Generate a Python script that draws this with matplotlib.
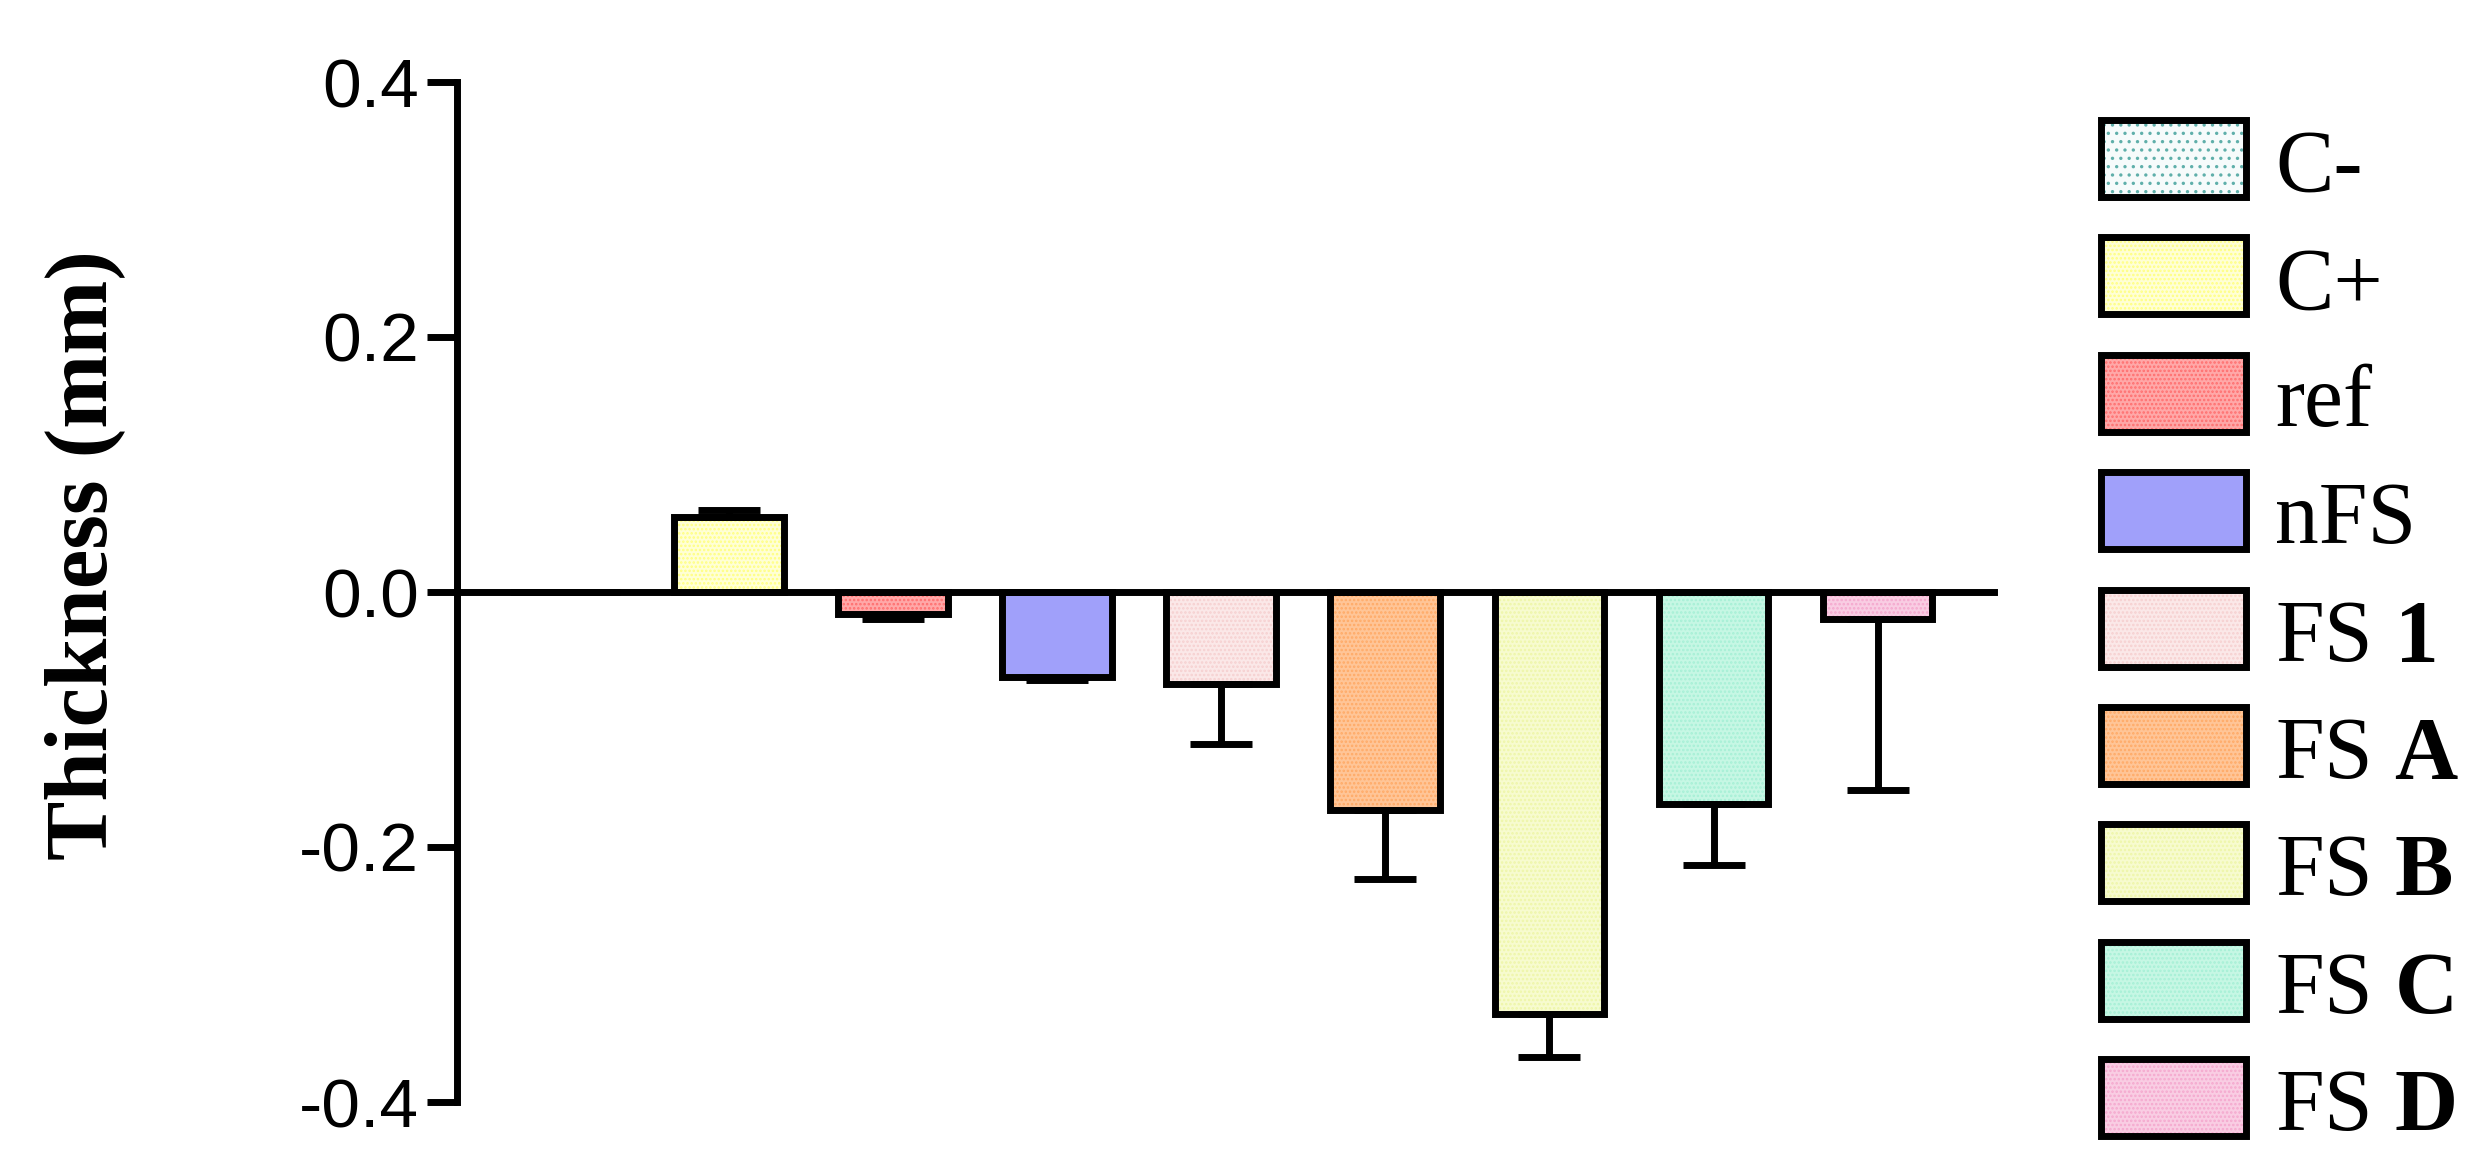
import matplotlib

matplotlib.use("Agg")
import matplotlib.pyplot as plt  # noqa: E402
from matplotlib.patches import Rectangle  # noqa: E402

# values
groups = ["C-", "C+", "ref", "nFS", "FS 1", "FS A", "FS B", "FS C", "FS D"]
legend_labels = ["C-", "C+", "ref", "nFS",
                 r"FS $\mathbf{1}$", r"FS $\mathbf{A}$", r"FS $\mathbf{B}$",
                 r"FS $\mathbf{C}$", r"FS $\mathbf{D}$"]
thickness = [0.0, 0.059, -0.017, -0.067, -0.072, -0.171, -0.331, -0.166, -0.021]
sd = [0.0, 0.005, 0.004, 0.002, 0.047, 0.054, 0.034, 0.048, 0.134]
fills = ["#F6FBFB", "#FFFFD6", "#FFA8A8", "#A0A0FA", "#FBE8E8",
         "#FFC597", "#F7FBCF", "#C6F7E4", "#F9CDE3"]
hatch_colors = ["#5FAFAA", "#FFFF80", "#FF6E6E", None, "#F6D0D0",
                "#FFAA66", "#EEF6A8", "#A6F0D6", "#F5A8CE"]
hatches = ["..", "....", "....", None, "....", "....", "....", "....", "...."]
yticks = [-0.4, -0.2, 0.0, 0.2, 0.4]

plt.rcParams["font.family"] = ["Liberation Sans", "DejaVu Sans"]
plt.rcParams["mathtext.fontset"] = "custom"
plt.rcParams["mathtext.rm"] = "Liberation Serif"
plt.rcParams["mathtext.bf"] = "Liberation Serif:bold"
plt.rcParams["hatch.linewidth"] = 1.2

W, H = 2477, 1160
fig = plt.figure(figsize=(W / 100, H / 100), dpi=100)
ax = fig.add_axes([457 / W, 1 - 1102 / H, 1537 / W, 1020 / H])

lw = 5


def add_hatch(patch, hatch, hc):
    if hatch is not None:
        patch.set_hatch(hatch)
        patch._hatch_color = matplotlib.colors.to_rgba(hc)


x = list(range(len(groups)))
bars = ax.bar(x, thickness, width=0.67, color=fills, edgecolor="black",
              linewidth=lw, zorder=2)
for b, ht, hc in zip(bars, hatches, hatch_colors):
    add_hatch(b, ht, hc)

# one-sided error bars, pointing away from zero
lower = [e if v < 0 else 0 for v, e in zip(thickness, sd)]
upper = [e if v > 0 else 0 for v, e in zip(thickness, sd)]
for xi, v, lo, up in zip(x, thickness, lower, upper):
    if lo == 0 and up == 0:
        continue
    ax.errorbar(xi, v, yerr=[[lo], [up]], fmt="none", ecolor="black",
                elinewidth=lw, capsize=22, capthick=lw, zorder=3)

ax.set_xlim(-0.66, 8.71)
ax.set_ylim(-0.4, 0.4)
ax.set_yticks(yticks)
ax.set_yticklabels([f"{t:.1f}" for t in yticks])
ax.tick_params(axis="y", labelsize=50, width=lw, length=21.5, pad=6)
ax.set_xticks([])

ax.spines["top"].set_visible(False)
ax.spines["right"].set_visible(False)
ax.spines["left"].set_linewidth(lw)
ax.spines["left"].set_bounds(-0.4, 0.4)
ax.spines["bottom"].set_position(("data", 0))
ax.spines["bottom"].set_linewidth(lw)
ax.spines["bottom"].set_zorder(4)

ax.set_ylabel("Thickness (mm)", fontsize=64, fontweight="bold",
              family="Liberation Serif")
ax.yaxis.set_label_coords(-0.216, 0.536)

# legend drawn by hand so rows keep an even pitch
box_left, box_w, box_h = 2101, 145, 77
row_top, row_pitch = 120, 117.4
for i, (lab, f, ht, hc) in enumerate(zip(legend_labels, fills, hatches, hatch_colors)):
    top = row_top + i * row_pitch
    r = Rectangle((box_left / W, 1 - (top + box_h) / H), box_w / W, box_h / H,
                  transform=fig.transFigure, facecolor=f, edgecolor="black",
                  linewidth=lw)
    add_hatch(r, ht, hc)
    fig.add_artist(r)
    fig.text(2275 / W, 1 - (top + box_h - 6) / H, lab, fontsize=63,
             family="Liberation Serif", va="baseline", ha="left")

fig.savefig("out.png", dpi=100)
